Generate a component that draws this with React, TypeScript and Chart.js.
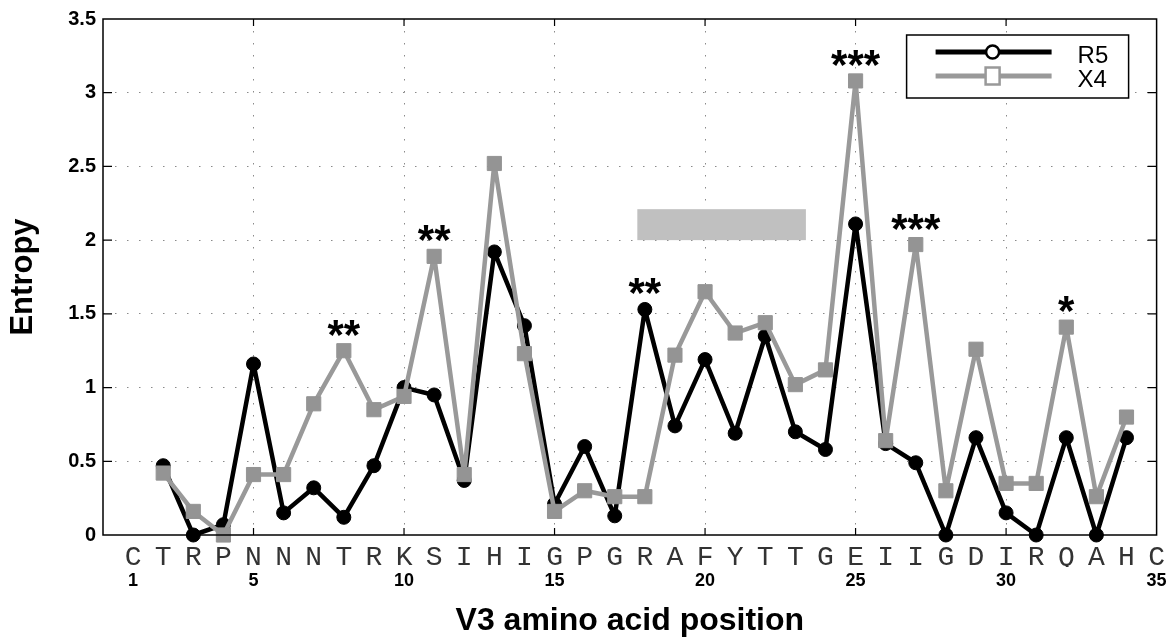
import React, { useEffect, useRef } from 'react';
import { Chart, registerables } from 'chart.js';

Chart.register(...registerables);

// ---- data ----
const residues = ['C', 'T', 'R', 'P', 'N', 'N', 'N', 'T', 'R', 'K', 'S', 'I', 'H', 'I', 'G', 'P', 'G', 'R', 'A', 'F', 'Y', 'T', 'T', 'G', 'E', 'I', 'I', 'G', 'D', 'I', 'R', 'Q', 'A', 'H', 'C'];
const numberedPositions = [1, 5, 10, 15, 20, 25, 30, 35];
const gridPositions = [5, 10, 15, 20, 25, 30];
const yTicks = [0, 0.5, 1, 1.5, 2, 2.5, 3, 3.5];

const positions = [2, 3, 4, 5, 6, 7, 8, 9, 10, 11, 12, 13, 14, 15, 16, 17, 18, 19, 20, 21, 22, 23, 24, 25, 26, 27, 28, 29, 30, 31, 32, 33, 34];
const r5Entropy = [0.47, 0, 0.07, 1.16, 0.15, 0.32, 0.12, 0.47, 1.0, 0.95, 0.37, 1.92, 1.42, 0.21, 0.6, 0.13, 1.53, 0.74, 1.19, 0.69, 1.35, 0.7, 0.58, 2.11, 0.62, 0.49, 0, 0.66, 0.15, 0, 0.66, 0, 0.66];
const x4Entropy = [0.42, 0.16, 0, 0.41, 0.41, 0.89, 1.25, 0.85, 0.94, 1.89, 0.41, 2.52, 1.23, 0.16, 0.3, 0.26, 0.26, 1.22, 1.65, 1.37, 1.44, 1.02, 1.12, 3.08, 0.64, 1.97, 0.3, 1.26, 0.35, 0.35, 1.41, 0.26, 0.8];

const starPositions = [8, 11, 18, 25, 27, 32];
const starLabels = ['**', '**', '**', '***', '***', '*'];

const loopRange = [17.75, 23.35];
const loopLevels = [2.0, 2.21];

const seriesNames = ['R5', 'X4'];

const SANS = '"Liberation Sans", Arial, Helvetica, sans-serif';
const MONO = '"Liberation Mono", "Courier New", monospace';
const GRAY = '#999999';

const decorPlugin = {
  id: 'decor',
  beforeDatasetsDraw(chart: any) {
    const { ctx, scales } = chart;
    const x = scales.x;
    const y = scales.y;
    ctx.save();
    ctx.fillStyle = '#c0c0c0';
    const x0 = x.getPixelForValue(loopRange[0]);
    const x1 = x.getPixelForValue(loopRange[1]);
    const y0 = y.getPixelForValue(loopLevels[1]);
    const y1 = y.getPixelForValue(loopLevels[0]);
    ctx.fillRect(x0, y0, x1 - x0, y1 - y0);
    ctx.restore();
  },
  afterDraw(chart: any) {
    const { ctx, chartArea: ca, scales } = chart;
    const x = scales.x;
    const y = scales.y;
    ctx.save();
    // frame
    ctx.strokeStyle = '#000';
    ctx.lineWidth = 1.5;
    ctx.strokeRect(ca.left, ca.top, ca.right - ca.left, ca.bottom - ca.top);
    // inward ticks
    ctx.lineWidth = 1.2;
    ctx.beginPath();
    gridPositions.forEach((p) => {
      const px = x.getPixelForValue(p);
      ctx.moveTo(px, ca.bottom);
      ctx.lineTo(px, ca.bottom - 7);
      ctx.moveTo(px, ca.top);
      ctx.lineTo(px, ca.top + 7);
    });
    yTicks.forEach((v) => {
      if (v <= 0 || v >= 3.5) return;
      const py = y.getPixelForValue(v);
      ctx.moveTo(ca.left, py);
      ctx.lineTo(ca.left + 9, py);
      ctx.moveTo(ca.right, py);
      ctx.lineTo(ca.right - 9, py);
    });
    ctx.stroke();

    // significance stars
    ctx.fillStyle = '#000';
    ctx.textAlign = 'center';
    ctx.textBaseline = 'alphabetic';
    ctx.font = `bold 42px ${SANS}`;
    starPositions.forEach((p, i) => {
      const idx = positions.indexOf(p);
      const top = Math.max(r5Entropy[idx], x4Entropy[idx]);
      const py = y.getPixelForValue(top) - 25;
      ctx.fillText(starLabels[i], x.getPixelForValue(p), py + 23);
    });

    // legend
    const lx = ca.right - 250;
    const ly = ca.top + 16;
    const lw = 222;
    const lh = 63;
    ctx.fillStyle = '#fff';
    ctx.fillRect(lx, ly, lw, lh);
    ctx.strokeStyle = '#000';
    ctx.lineWidth = 1.5;
    ctx.strokeRect(lx, ly, lw, lh);
    const rows = [ly + 17, ly + 41];
    const colors = ['#000', GRAY];
    rows.forEach((ry, i) => {
      ctx.strokeStyle = colors[i];
      ctx.lineWidth = 5;
      ctx.beginPath();
      ctx.moveTo(lx + 29, ry);
      ctx.lineTo(lx + 145, ry);
      ctx.stroke();
      ctx.lineWidth = 2.5;
      ctx.fillStyle = '#fff';
      if (i === 0) {
        ctx.beginPath();
        ctx.arc(lx + 86, ry, 6.5, 0, Math.PI * 2);
        ctx.fill();
        ctx.stroke();
      } else {
        ctx.fillRect(lx + 79, ry - 8.5, 14, 17);
        ctx.strokeRect(lx + 79, ry - 8.5, 14, 17);
      }
      ctx.fillStyle = '#000';
      ctx.textAlign = 'left';
      ctx.font = `24px ${SANS}`;
      ctx.fillText(seriesNames[i], lx + 171, ry + 11);
    });
    ctx.restore();
  },
};

export default function App() {
  const ref = useRef<HTMLCanvasElement>(null);
  useEffect(() => {
    const canvas = ref.current;
    if (!canvas) return;
    const chart = new Chart(canvas, {
      type: 'line',
      data: {
        datasets: [
          {
            label: 'X4',
            data: positions.map((p, i) => ({ x: p, y: x4Entropy[i] })),
            borderColor: GRAY,
            backgroundColor: '#949494',
            borderWidth: 4.5,
            borderJoinStyle: 'round',
            borderCapStyle: 'round',
            pointStyle: 'rect',
            pointRadius: 10,
            pointBorderWidth: 1,
            pointBorderColor: '#949494',
            pointBackgroundColor: '#949494',
            order: 0,
            clip: false,
            tension: 0,
          } as any,
          {
            label: 'R5',
            data: positions.map((p, i) => ({ x: p, y: r5Entropy[i] })),
            borderColor: '#000',
            backgroundColor: '#000',
            borderWidth: 4.5,
            borderJoinStyle: 'round',
            borderCapStyle: 'round',
            pointStyle: 'circle',
            pointRadius: 7,
            pointBorderWidth: 1,
            pointBorderColor: '#000',
            pointBackgroundColor: '#000',
            order: 1,
            clip: false,
            tension: 0,
          } as any,
        ],
      },
      options: {
        animation: false,
        responsive: false,
        devicePixelRatio: 1,
        events: [],
        layout: { padding: { top: 18, right: 13, left: 0, bottom: 0 } },
        plugins: { legend: { display: false }, tooltip: { enabled: false } },
        scales: {
          x: {
            type: 'linear',
            min: 0,
            max: 35,
            position: 'bottom',
            weight: 0,
            afterBuildTicks: (s: any) => {
              s.ticks = residues.map((_, i) => ({ value: i + 1 }));
            },
            afterFit: (s: any) => {
              s.height = 32;
            },
            ticks: {
              autoSkip: false,
              maxRotation: 0,
              minRotation: 0,
              padding: 6,
              color: '#333',
              font: { family: MONO, size: 28 },
              callback: (v: any) => residues[Number(v) - 1] ?? '',
            },
            grid: {
              drawTicks: false,
              lineWidth: 1,
              color: (c: any) => (c.tick && gridPositions.includes(c.tick.value) ? '#8a8a8a' : 'rgba(0,0,0,0)'),
            },
            border: { display: false, dash: [1.5, 10.5] },
          } as any,
          x2: {
            type: 'linear',
            min: 0,
            max: 35,
            position: 'bottom',
            weight: 1,
            afterBuildTicks: (s: any) => {
              s.ticks = numberedPositions.map((v) => ({ value: v }));
            },
            afterFit: (s: any) => {
              s.height = 73;
            },
            ticks: {
              autoSkip: false,
              maxRotation: 0,
              minRotation: 0,
              padding: 3,
              color: '#000',
              font: { family: SANS, size: 18, weight: 'bold' },
              callback: (v: any) => String(v),
            },
            grid: { display: false, drawTicks: false },
            border: { display: false },
            title: {
              display: true,
              text: 'V3 amino acid position',
              color: '#000',
              font: { family: SANS, size: 32, weight: 'bold' },
              padding: { top: 1, bottom: 0 },
            },
          } as any,
          y: {
            type: 'linear',
            min: 0,
            max: 3.5,
            afterBuildTicks: (s: any) => {
              s.ticks = yTicks.map((v) => ({ value: v }));
            },
            afterFit: (s: any) => {
              s.width = 103;
            },
            ticks: {
              padding: 7,
              color: '#000',
              font: { family: SANS, size: 20, weight: 'bold' },
              callback: (v: any) => String(v),
            },
            grid: {
              drawTicks: false,
              lineWidth: 1,
              color: (c: any) => (c.tick && c.tick.value > 0 && c.tick.value < 3.5 ? '#8a8a8a' : 'rgba(0,0,0,0)'),
            },
            border: { display: false, dash: [1.5, 10.5] },
            title: {
              display: true,
              text: 'Entropy',
              color: '#000',
              font: { family: SANS, size: 31, weight: 'bold' },
              padding: { top: 5, bottom: 0 },
            },
          } as any,
        },
      },
      plugins: [decorPlugin],
    });
    return () => chart.destroy();
  }, []);

  return (
    <div style={{ position: 'fixed', left: 0, top: 0, width: 1171, height: 640, background: '#fff' }}>
      <canvas ref={ref} width={1171} height={640} style={{ display: 'block', width: 1171, height: 640 }} />
    </div>
  );
}
